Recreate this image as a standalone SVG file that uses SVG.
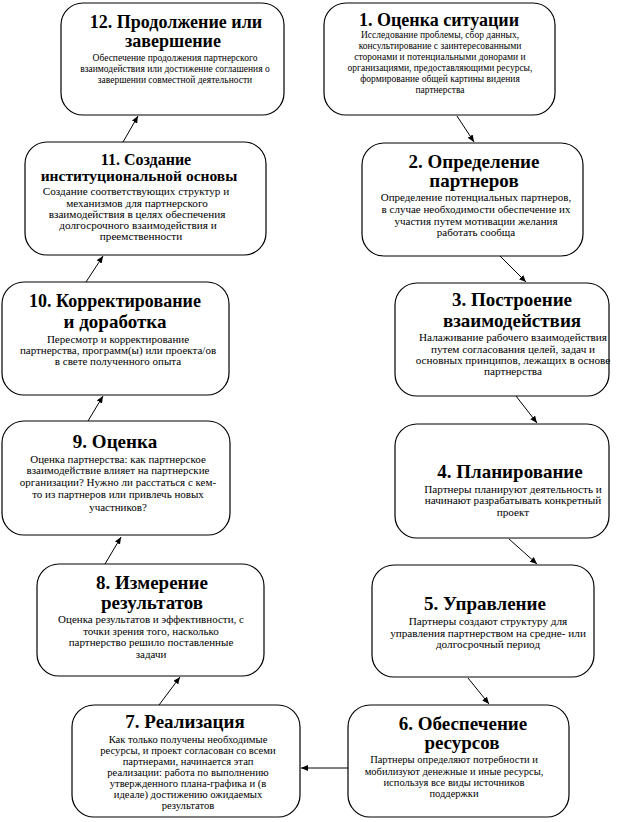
<svg xmlns="http://www.w3.org/2000/svg" width="624" height="822" viewBox="0 0 624 822">
<style>
.box{fill:#fff;stroke:#000;stroke-width:1.2}
.t{font-family:'Liberation Serif','Times New Roman',serif;font-weight:bold;font-size:19px;text-anchor:middle;fill:#000}
.t2{font-size:18px}
.b{font-family:'Liberation Serif','Times New Roman',serif;font-size:11px;text-anchor:middle;fill:#000}
.s{font-size:9.5px}
.m{font-size:11.2px}
.r{font-size:10.6px}
.c{stroke:#000;stroke-width:1;fill:none;marker-end:url(#ah)}
</style>
<defs>
<marker id="ah" markerUnits="userSpaceOnUse" markerWidth="8" markerHeight="6" refX="7" refY="3" orient="auto">
<path d="M0,0 L7,3 L0,6 z" fill="#000"/>
</marker>
</defs>
<rect width="624" height="822" fill="#fff"/>
<g id="connectors">
<line class="c" x1="457" y1="116" x2="474" y2="142"/>
<line class="c" x1="500" y1="256" x2="526" y2="282"/>
<line class="c" x1="516" y1="396" x2="537" y2="423"/>
<line class="c" x1="509" y1="539" x2="537" y2="564"/>
<line class="c" x1="468" y1="678" x2="489" y2="704"/>
<line class="c" x1="348" y1="768" x2="301" y2="768"/>
<line class="c" x1="159" y1="705" x2="180" y2="677"/>
<line class="c" x1="105" y1="564" x2="121" y2="537"/>
<line class="c" x1="88" y1="421" x2="103" y2="396"/>
<line class="c" x1="86" y1="282" x2="103" y2="256"/>
<line class="c" x1="123" y1="142" x2="138" y2="116"/>
</g>
<g id="n12">
<rect class="box" x="61" y="3" width="223" height="112" rx="22"/>
<text class="t t2" x="176" y="28">12. Продолжение или</text>
<text class="t t2" x="173" y="47">завершение</text>
<text class="b s" x="175" y="61">Обеспечение продолжения партнерского</text>
<text class="b s" x="175" y="72">взаимодействия или достижение соглашения о</text>
<text class="b s" x="175" y="83">завершении совместной деятельности</text>
</g>
<g id="n1">
<rect class="box" x="324" y="3" width="231" height="112" rx="22"/>
<text class="t t2" x="439" y="26">1. Оценка ситуации</text>
<text class="b s" x="440" y="38">Исследование проблемы, сбор данных,</text>
<text class="b s" x="440" y="49">консультирование с заинтересованными</text>
<text class="b s" x="440" y="60">сторонами и потенциальными донорами и</text>
<text class="b s" x="440" y="71">организациями, предоставляющими ресурсы,</text>
<text class="b s" x="440" y="82">формирование общей картины видения</text>
<text class="b s" x="440" y="93">партнерства</text>
</g>
<g id="n11">
<rect class="box" x="25" y="142" width="241" height="113" rx="22"/>
<text class="t" x="146" y="165" style="font-size:16px">11. Создание</text>
<text class="t" x="139" y="181" style="font-size:15.5px">институциональной основы</text>
<text class="b m" x="136" y="195">Создание соответствующих структур и</text>
<text class="b m" x="137" y="207">механизмов для партнерского</text>
<text class="b m" x="137" y="218">взаимодействия в целях обеспечения</text>
<text class="b m" x="138" y="229">долгосрочного взаимодействия и</text>
<text class="b m" x="141" y="240">преемственности</text>
</g>
<g id="n2">
<rect class="box" x="362" y="143" width="221" height="113" rx="22"/>
<text class="t" x="474" y="168">2. Определение</text>
<text class="t" x="474" y="187">партнеров</text>
<text class="b" x="476" y="201">Определение потенциальных партнеров,</text>
<text class="b" x="476" y="213">в случае необходимости обеспечение их</text>
<text class="b" x="476" y="225">участия путем мотивации желания</text>
<text class="b" x="476" y="236">работать сообща</text>
</g>
<g id="n10">
<rect class="box" x="2" y="282" width="227" height="113" rx="22"/>
<text class="t t2" x="115" y="307">10. Корректирование</text>
<text class="t" x="115" y="328">и доработка</text>
<text class="b" x="118" y="343">Пересмотр и корректирование</text>
<text class="b" x="118" y="354">партнерства, программ(ы) или проекта/ов</text>
<text class="b" x="118" y="365">в свете полученного опыта</text>
</g>
<g id="n3">
<rect class="box" x="395" y="283" width="214" height="113" rx="22"/>
<text class="t" x="512" y="306">3. Построение</text>
<text class="t" x="512" y="327">взаимодействия</text>
<text class="b m" x="513" y="341">Налаживание рабочего взаимодействия</text>
<text class="b m" x="513" y="353">путем согласования целей, задач и</text>
<text class="b m" x="513" y="364">основных принципов, лежащих в основе</text>
<text class="b m" x="513" y="375">партнерства</text>
</g>
<g id="n9">
<rect class="box" x="2" y="421" width="228" height="114" rx="22"/>
<text class="t" x="115" y="448">9. Оценка</text>
<text class="b" x="118" y="463">Оценка партнерства: как партнерское</text>
<text class="b" x="118" y="474">взаимодействие влияет на партнерские</text>
<text class="b" x="118" y="486">организации? Нужно ли расстаться с кем-</text>
<text class="b" x="118" y="498">то из партнеров или привлечь новых</text>
<text class="b" x="118" y="511">участников?</text>
</g>
<g id="n4">
<rect class="box" x="395" y="424" width="214" height="114" rx="22"/>
<text class="t" x="510" y="478">4. Планирование</text>
<text class="b m" x="513" y="493">Партнеры планируют деятельность и</text>
<text class="b m" x="513" y="504">начинают разрабатывать конкретный</text>
<text class="b m" x="513" y="516">проект</text>
</g>
<g id="n8">
<rect class="box" x="37" y="564" width="227" height="112" rx="22"/>
<text class="t" x="152" y="589">8. Измерение</text>
<text class="t" x="152" y="609">результатов</text>
<text class="b" x="151" y="623">Оценка результатов и эффективности, с</text>
<text class="b" x="151" y="635">точки зрения того, насколько</text>
<text class="b" x="151" y="646">партнерство решило поставленные</text>
<text class="b" x="151" y="658">задачи</text>
</g>
<g id="n5">
<rect class="box" x="372" y="565" width="222" height="112" rx="22"/>
<text class="t" x="485" y="610">5. Управление</text>
<text class="b m" x="488" y="625">Партнеры создают структуру для</text>
<text class="b m" x="488" y="637">управления партнерством на средне- или</text>
<text class="b m" x="488" y="648">долгосрочный период</text>
</g>
<g id="n7">
<rect class="box" x="72" y="705" width="228" height="112" rx="22"/>
<text class="t" x="185" y="728">7. Реализация</text>
<text class="b r" x="188" y="743">Как только получены необходимые</text>
<text class="b r" x="188" y="754">ресурсы, и проект согласован со всеми</text>
<text class="b r" x="188" y="765">партнерами, начинается этап</text>
<text class="b r" x="188" y="776">реализации: работа по выполнению</text>
<text class="b r" x="188" y="787">утвержденного плана-графика и (в</text>
<text class="b r" x="188" y="798">идеале) достижению ожидаемых</text>
<text class="b r" x="188" y="809">результатов</text>
</g>
<g id="n6">
<rect class="box" x="348" y="705" width="221" height="112" rx="22"/>
<text class="t" x="463" y="730">6. Обеспечение</text>
<text class="t" x="462" y="749">ресурсов</text>
<text class="b" x="454" y="763" style="font-size:10.5px">Партнеры определяют потребности и</text>
<text class="b" x="454" y="775" style="font-size:10.5px">мобилизуют денежные и иные ресурсы,</text>
<text class="b" x="454" y="786" style="font-size:10.5px">используя все виды источников</text>
<text class="b" x="454" y="797" style="font-size:10.5px">поддержки</text>
</g>
</svg>
